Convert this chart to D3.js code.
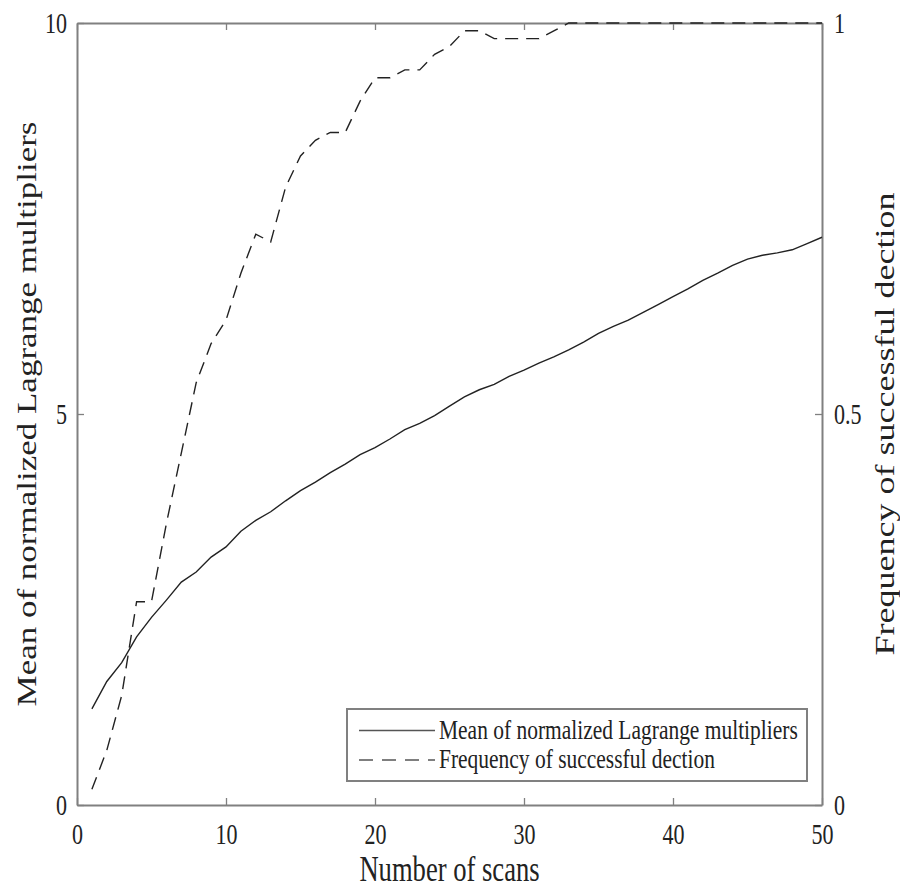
<!DOCTYPE html>
<html>
<head>
<meta charset="utf-8">
<script src="https://cdn.jsdelivr.net/npm/d3@7"></script>
<style>
  body { margin: 0; background: #fff; }
  svg text { font-family: "Liberation Serif", "DejaVu Serif", serif; fill: #222; }
</style>
</head>
<body>
<svg id="chart" width="900" height="889"></svg>
<script>

// Data
const scans = d3.range(1, 51);
const meanLagrange = [
    1.23, 1.58, 1.82, 2.15, 2.40, 2.62, 2.85, 2.98, 3.17, 3.30,
    3.50, 3.64, 3.75, 3.89, 4.02, 4.13, 4.25, 4.36, 4.48, 4.57,
    4.68, 4.80, 4.88, 4.98, 5.10, 5.22, 5.31, 5.38, 5.48, 5.56,
    5.65, 5.73, 5.82, 5.92, 6.03, 6.12, 6.20, 6.30, 6.40, 6.50,
    6.60, 6.71, 6.80, 6.90, 6.98, 7.03, 7.06, 7.10, 7.18, 7.26
];
const detectFreq = [
    0.02, 0.07, 0.14, 0.26, 0.26, 0.36, 0.45, 0.54, 0.59, 0.62,
    0.68, 0.73, 0.72, 0.79, 0.83, 0.85, 0.86, 0.86, 0.90, 0.93,
    0.93, 0.94, 0.94, 0.96, 0.97, 0.99, 0.99, 0.98, 0.98, 0.98,
    0.98, 0.99, 1.00, 1.00, 1.00, 1.00, 1.00, 1.00, 1.00, 1.00,
    1.00, 1.00, 1.00, 1.00, 1.00, 1.00, 1.00, 1.00, 1.00, 1.00
];
const xTicks = [0, 10, 20, 30, 40, 50];
const leftTicks = [0, 5, 10];
const rightTicks = [0, 0.5, 1];
const xLabel = "Number of scans";
const leftLabel = "Mean of normalized Lagrange multipliers";
const rightLabel = "Frequency of successful dection";
const legendNames = ["Mean of normalized Lagrange multipliers", "Frequency of successful dection"];

// Layout
const W = 900, H = 889;
const margin = {top: 23, right: 78, bottom: 84, left: 77};
const squeeze = 0.76;   // the source picture is narrowed horizontally
const frameColour = "#808080";
const lineColour = "#222";

const svg = d3.select("#chart");

const x = d3.scaleLinear().domain([0, 50]).range([margin.left, W - margin.right]);
const yL = d3.scaleLinear().domain([0, 10]).range([H - margin.bottom, margin.top]);
const yR = d3.scaleLinear().domain([0, 1]).range([H - margin.bottom, margin.top]);

// Axes (ticks point inward, MATLAB style)
function styleAxis(g) {
    g.select(".domain").attr("stroke", frameColour).attr("stroke-width", 2);
    g.selectAll(".tick line").attr("stroke", frameColour).attr("stroke-width", 1.3);
    g.selectAll(".tick text")
        .attr("fill", "#222")
        .style("font-size", "29px")
        .attr("font-family", "Liberation Serif");
}

const bottom = svg.append("g")
    .attr("transform", `translate(0, ${H - margin.bottom})`)
    .call(d3.axisBottom(x).tickValues(xTicks).tickSizeInner(-7).tickSizeOuter(0).tickPadding(18))
    .call(styleAxis);
bottom.selectAll(".tick text").attr("transform", `scale(${squeeze}, 1)`);

svg.append("g")
    .attr("transform", `translate(0, ${margin.top})`)
    .call(d3.axisTop(x).tickValues(xTicks).tickSizeInner(-7).tickSizeOuter(0).tickFormat(""))
    .call(styleAxis);

const left = svg.append("g")
    .attr("transform", `translate(${margin.left}, 0)`)
    .call(d3.axisLeft(yL).tickValues(leftTicks).tickSizeInner(-7).tickSizeOuter(0).tickFormat(d3.format("d")))
    .call(styleAxis);
left.selectAll(".tick text").attr("x", -10 / squeeze).attr("transform", `scale(${squeeze}, 1)`);

const right = svg.append("g")
    .attr("transform", `translate(${W - margin.right}, 0)`)
    .call(d3.axisRight(yR).tickValues(rightTicks).tickSizeInner(-7).tickSizeOuter(0).tickFormat(d => d === 0.5 ? "0.5" : d3.format("d")(d)))
    .call(styleAxis);
right.selectAll(".tick text").attr("x", 12 / squeeze).attr("transform", `scale(${squeeze}, 1)`);

// Series
const solid = d3.line().x((d, i) => x(scans[i])).y(d => yL(d));
const dashed = d3.line().x((d, i) => x(scans[i])).y(d => yR(d));

svg.append("path")
    .datum(meanLagrange)
    .attr("d", solid)
    .attr("fill", "none")
    .attr("stroke", lineColour)
    .attr("stroke-width", 1.4);

svg.append("path")
    .datum(detectFreq)
    .attr("d", dashed)
    .attr("fill", "none")
    .attr("stroke", lineColour)
    .attr("stroke-width", 1.4)
    .attr("stroke-dasharray", "13,8");

// Axis labels
function squeezedText(px, py, rotate, str, size) {
    const g = svg.append("g")
        .attr("transform", `translate(${px}, ${py}) scale(${squeeze}, 1)` + (rotate ? " rotate(-90)" : ""));
    g.append("text")
        .attr("text-anchor", "middle")
        .style("font-size", size + "px")
        .text(str);
}
const midY = (margin.top + H - margin.bottom) / 2;
squeezedText((x(0) + x(50)) / 2, 881, false, xLabel, 35);
squeezedText(36, midY, true, leftLabel, 35);
squeezedText(894, midY + 10, true, rightLabel, 36);

// Legend
const legend = svg.append("g").attr("transform", "translate(347, 709)");
legend.append("rect")
    .attr("width", 460).attr("height", 72)
    .attr("fill", "#fff")
    .attr("stroke", frameColour)
    .attr("stroke-width", 2);

legendNames.forEach((name, i) => {
    const yy = 21.5 + i * 29.5;
    legend.append("line")
        .attr("x1", 12).attr("x2", 88)
        .attr("y1", yy).attr("y2", yy)
        .attr("stroke", "#555")
        .attr("stroke-width", 1.6)
        .attr("stroke-dasharray", i === 1 ? "14,9" : null);
    legend.append("g")
        .attr("transform", `translate(92, ${yy + 8}) scale(0.81, 1)`)
        .append("text")
        .style("font-size", "26.5px")
        .text(name);
});

</script>
</body>
</html>
